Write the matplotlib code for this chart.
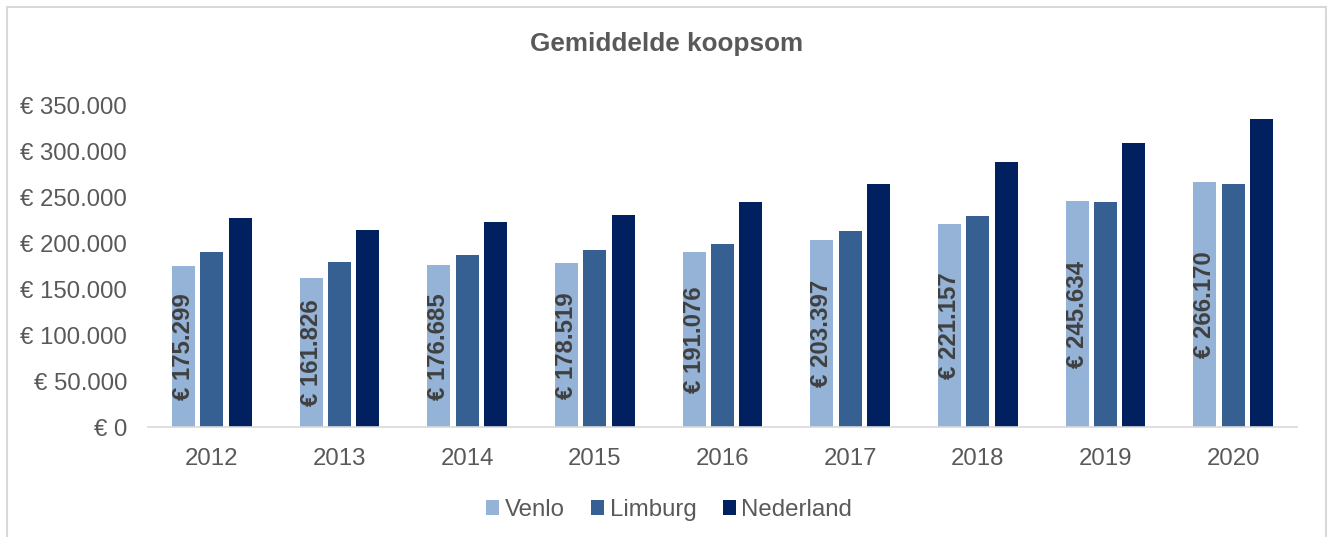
import numpy as np
import matplotlib.pyplot as plt
from matplotlib.patches import Rectangle
from matplotlib.ticker import FuncFormatter

plt.rcParams['font.family'] = ['Liberation Sans', 'DejaVu Sans']

years = ['2012', '2013', '2014', '2015', '2016', '2017', '2018', '2019', '2020']
venlo = [175299, 161826, 176685, 178519, 191076, 203397, 221157, 245634, 266170]
limburg = [190400, 179600, 187200, 192600, 199100, 213200, 229500, 244700, 264200]
nederland = [227300, 214300, 223000, 230600, 244700, 264200, 288100, 308700, 334700]

series = [('Venlo', venlo, '#95B3D7'),
          ('Limburg', limburg, '#366092'),
          ('Nederland', nederland, '#002060')]

text_col = '#595959'
fs = 17.3


def euro(v, pos=None):
    return '€ ' + f'{int(round(v)):,}'.replace(',', '.')


fig = plt.figure(figsize=(13.33, 5.37), dpi=100)
ax = fig.add_axes([0.111, 0.204, 0.862, 0.600])

x = np.arange(len(years))
width = 0.18
step = 0.222
for i, (name, vals, col) in enumerate(series):
    ax.bar(x + (i - 1) * step, vals, width, color=col, label=name)

# data labels on the Venlo bars, centred, rotated
for xi, v in zip(x, venlo):
    ax.text(xi - step, v / 2, euro(v), rotation=90, ha='center', va='center',
            fontsize=fs, fontweight='bold', color='#404040')

ax.set_xlim(-0.5, len(years) - 0.5)
ax.set_ylim(0, 350000)
ax.set_yticks(np.arange(0, 350001, 50000))
ax.yaxis.set_major_formatter(FuncFormatter(euro))
ax.set_xticks(x)
ax.set_xticklabels(years)
ax.tick_params(axis='y', length=0, pad=15, labelsize=fs, labelcolor=text_col)
ax.tick_params(axis='x', length=0, pad=15, labelsize=fs, labelcolor=text_col)

for s in ['top', 'right', 'left']:
    ax.spines[s].set_visible(False)
ax.spines['bottom'].set_color('#D9D9D9')
ax.spines['bottom'].set_linewidth(1.2)

fig.text(0.5, 1 - 44 / 537, 'Gemiddelde koopsom', ha='center', va='center',
         fontsize=18.8, fontweight='bold', color=text_col)

ax.legend(loc='center', bbox_to_anchor=(0.502, 1 - 510 / 537), bbox_transform=fig.transFigure,
          ncol=3, frameon=False, fontsize=fs, labelcolor=text_col,
          handlelength=0.55, handleheight=0.55, handletextpad=0.22, columnspacing=1.1)

# chart border
fig.patches.append(Rectangle((7 / 1333, -0.05), 1319 / 1333, 1.05 - 7 / 537,
                             transform=fig.transFigure, fill=False,
                             edgecolor='#D9D9D9', linewidth=1.5))

fig.savefig('out.png', dpi=100)
